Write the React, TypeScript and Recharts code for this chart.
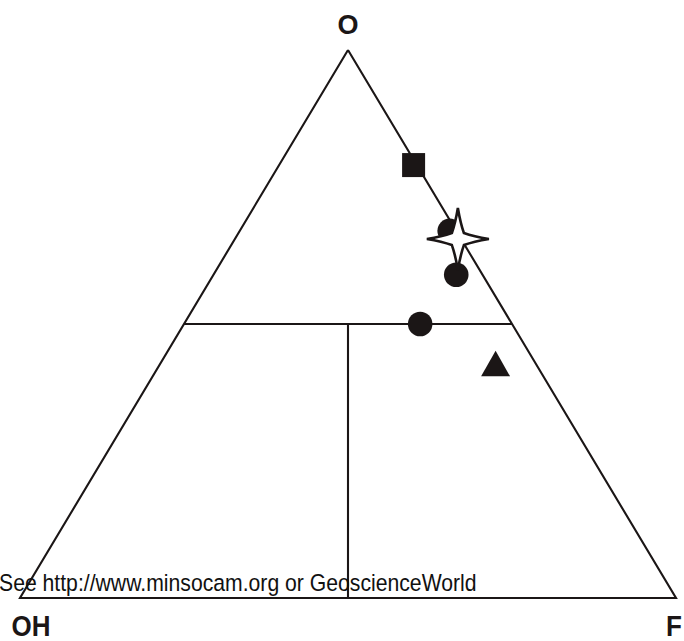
import { ScatterChart, Scatter, XAxis, YAxis } from 'recharts';

// Ternary O – OH – F diagram (O at apex, OH bottom left, F bottom right)
const vertexNames = ['O', 'OH', 'F'];
const vertexO = [1, 0, 0];
const vertexF = [0, 0, 1];
const vertexOH = [0, 1, 0];

// field boundaries, as ternary fractions
const outlineO = [1, 0, 0, 1];
const outlineF = [0, 0, 1, 0];
const outlineOH = [0, 1, 0, 0];
const midlineO = [0.5, 0.5];
const midlineF = [0, 0.5];
const midlineOH = [0.5, 0];
const dividerO = [0.5, 0];
const dividerF = [0.25, 0.5];
const dividerOH = [0.25, 0.5];

// analyses
const circleO = [0.67, 0.59, 0.5];
const circleF = [0.32, 0.37, 0.36];
const circleOH = [0.01, 0.04, 0.14];
const squareO = [0.79];
const squareF = [0.205];
const squareOH = [0.005];
const triangleO = [0.42];
const triangleF = [0.515];
const triangleOH = [0.065];
const starO = [0.655];
const starF = [0.34];
const starOH = [0.005];

const footerText = 'See http://www.minsocam.org or GeoscienceWorld';

const INK = '#1b1616';
const FONT = "'Liberation Sans', Arial, sans-serif";

function toXY(o: number[], f: number[], oh: number[], names?: string[]) {
  return o.map((v, i) => {
    const s = v + f[i] + oh[i];
    return { x: (f[i] + v / 2) / s, y: v / s, name: names ? names[i] : '' };
  });
}

const labelOffset: Record<string, { dx: number; dy: number; size: number; sy: number }> = {
  O: { dx: 0, dy: -16, size: 27, sy: 1 },
  OH: { dx: 11, dy: 38, size: 26, sy: 1.12 },
  F: { dx: -2, dy: 38, size: 26, sy: 1.12 },
};

const Empty = () => <g />;

const VertexLabel = (props: any) => {
  const { cx, cy, payload } = props;
  const o = labelOffset[payload.name];
  return (
    <text
      transform={`translate(${cx + o.dx},${cy + o.dy}) scale(1,${o.sy})`}
      textAnchor="middle"
      fontFamily={FONT}
      fontWeight="bold"
      fontSize={o.size}
      fill={INK}
    >
      {payload.name}
    </text>
  );
};

const Dot = (props: any) => <circle cx={props.cx} cy={props.cy} r={12.3} fill={INK} />;

const Square = (props: any) => (
  <rect x={props.cx - 11.5} y={props.cy - 12} width={23} height={24} fill={INK} />
);

const Tri = (props: any) => {
  const { cx, cy } = props;
  return (
    <path
      d={`M${cx},${cy - 17} L${cx + 14.5},${cy + 8.5} L${cx - 14.5},${cy + 8.5} Z`}
      fill={INK}
    />
  );
};

// four-pointed star with slightly concave sides, open symbol
const Star = (props: any) => {
  const { cx, cy } = props;
  const R = 31;
  const r = 8.5;
  let d = '';
  for (let k = 0; k < 4; k++) {
    const a = (k * Math.PI) / 2 - Math.PI / 2;
    const b = a + Math.PI / 4;
    const c = a + Math.PI / 2;
    const tip = [cx + R * Math.cos(a), cy + R * Math.sin(a)];
    const inner = [cx + r * Math.cos(b), cy + r * Math.sin(b)];
    const next = [cx + R * Math.cos(c), cy + R * Math.sin(c)];
    if (k === 0) d += `M${tip[0]},${tip[1]} `;
    // pull each side a little toward the centre
    const q1 = [(tip[0] + inner[0]) / 2 * 0.85 + cx * 0.15, (tip[1] + inner[1]) / 2 * 0.85 + cy * 0.15];
    const q2 = [(next[0] + inner[0]) / 2 * 0.85 + cx * 0.15, (next[1] + inner[1]) / 2 * 0.85 + cy * 0.15];
    d += `Q${q1[0]},${q1[1]} ${inner[0]},${inner[1]} Q${q2[0]},${q2[1]} ${next[0]},${next[1]} `;
  }
  d += 'Z';
  return <path d={d} fill="#fff" stroke={INK} strokeWidth={2.6} strokeLinejoin="miter" />;
};

const lineStyle = { stroke: INK, strokeWidth: 2.1, strokeLinejoin: 'miter' as const };

export default function App() {
  return (
    <div style={{ position: 'absolute', left: 0, top: 0, width: 684, height: 641, background: '#fff', overflow: 'hidden' }}>
      <ScatterChart width={684} height={641} margin={{ top: 50, right: 8, bottom: 43, left: 20 }}>
        <XAxis type="number" dataKey="x" domain={[0, 1]} hide />
        <YAxis type="number" dataKey="y" domain={[0, 1]} hide />
        <Scatter data={toXY(outlineO, outlineF, outlineOH)} line={lineStyle} shape={Empty} isAnimationActive={false} />
        <Scatter data={toXY(midlineO, midlineF, midlineOH)} line={lineStyle} shape={Empty} isAnimationActive={false} />
        <Scatter data={toXY(dividerO, dividerF, dividerOH)} line={lineStyle} shape={Empty} isAnimationActive={false} />
        <Scatter data={toXY(squareO, squareF, squareOH)} shape={Square} isAnimationActive={false} />
        <Scatter data={toXY(circleO, circleF, circleOH)} shape={Dot} isAnimationActive={false} />
        <Scatter data={toXY(triangleO, triangleF, triangleOH)} shape={Tri} isAnimationActive={false} />
        <Scatter data={toXY(starO, starF, starOH)} shape={Star} isAnimationActive={false} />
        <Scatter data={toXY(vertexO, vertexF, vertexOH, vertexNames)} shape={VertexLabel} isAnimationActive={false} />
      </ScatterChart>
      <svg width={684} height={641} style={{ position: 'absolute', left: 0, top: 0, pointerEvents: 'none' }}>
        <text transform="translate(-1,591) scale(1,1.1)" fontFamily={FONT} fontSize={21.2} fill="#111">
          {footerText}
        </text>
      </svg>
    </div>
  );
}
